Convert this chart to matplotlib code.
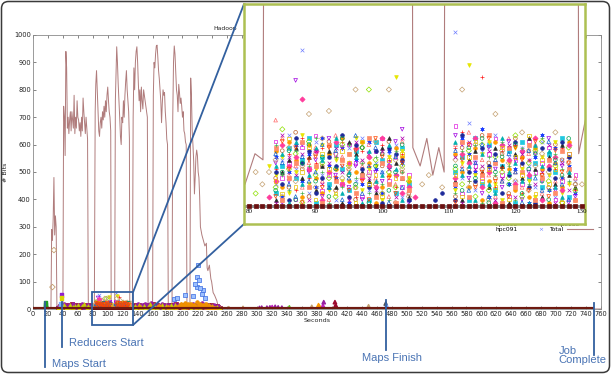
import numpy as np
import matplotlib
matplotlib.use('Agg')
import matplotlib.pyplot as plt
import matplotlib.transforms as mtransforms
from matplotlib.patches import Rectangle, FancyBboxPatch, ConnectionPatch

N = None

# Total bits per second
total_t = [0, 24, 25, 26, 27, 28, 29, 30, 31, 32, 40,
           41, 42, 43, 44, 45, 46, 47, 48, 49, 50, 51, 52, 53, 54, 55, 56, 57, 58, 59, 60,
           61, 62, 63, 64, 65, 66, 67, 68, 69, 70, 71, 72, 73, 74, 76, 78,
           79.4, 80.9, 82.1, 83.2, 84, 85, 86, 87, 88, 89, 90, 91, 92, 93, 94, 95, 96, 97, 98, 99,
           100, 101, 102, 103, 104, 104.6, 105.7, 106.7, 107.6, 108.5, 109.3, 110.2,
           111, 112, 113, 114, 115, 116, 117, 118, 119, 120, 121, 122, 123, 124, 125, 126, 127, 128, 129,
           129.5, 130.5, 131.5, 133, 134, 135, 136, 137, 138, 139, 140, 141, 142, 143, 144, 145, 146, 147,
           148, 150, 152, 153, 154, 160, 161, 162, 163, 164, 165, 166, 167, 168, 169, 170, 171, 172, 173,
           174, 175, 176, 177, 178, 179, 180, 181, 186, 187, 188, 189, 190, 191, 192, 193, 194, 195, 196,
           197, 198, 199, 200, 201, 202, 203, 204, 205, 206, 210, 211, 212, 213, 214, 215, 216, 217, 218,
           219, 220, 221, 222, 223, 224, 226, 228, 230, 232, 233, 234, 236, 238, 239, 241, 243, 246, 248,
           250, 760]
total_v = [0, 0, 290, 250, 330, 480, 270, 340, 300, 5, 5,
           740, 700, 560, 940, 880, 660, 700, 640, 690, 720, 650, 720, 690, 660, 780, 640, 700, 660, 760, 700,
           690, 650, 680, 630, 700, 650, 770, 720, 680, 640, 700, 660, 620, 8, 4, 9,
           7, 17, 15, 720, 820, 870, 800, 720, 650, 630, 680, 700, 660, 720, 690, 740, 700, 760, 720, 780,
           810, 760, 720, 700, 650, 19, 13, 22, 10, 19, 11, 760,
           850, 957, 900, 820, 760, 700, 630, 600, 700, 680, 760, 700, 780, 830, 870, 800, 760, 720, 620,
           17, 28, 15, 20, 700, 880, 800, 900, 940, 957, 900, 820, 760, 800, 720, 810, 760, 730,
           800, 760, 720, 700, 10, 8, 780, 900, 880, 930, 960, 963, 920, 870, 840, 800, 760, 680, 750,
           800, 780, 790, 720, 680, 620, 600, 8, 6, 700, 900, 960, 930, 860, 800, 780, 720, 820, 790,
           750, 770, 740, 700, 720, 650, 640, 610, 600, 8, 6, 843, 780, 650, 600, 540, 420, 480, 555,
           580, 560, 500, 480, 410, 300, 270, 250, 230, 240, 150, 140, 160, 110, 100, 60, 50, 30, 5,
           0, 0]

# per-host samples inside the zoom window, one per second (80..131)
win_secs = np.arange(80, 132)
hpc090 = [N, N, N, 3, 12, 20, 17, 5, 22, 9, 14, 19, 7, 16, 21, 11, 3, 18, 13, 8, 20, 15, 6, 17, 9,
          N, N, N, N, N, N, 19, 24, 8, 16, 42, 21, 6, 18, 11, 20, 4, 15, 22, 9, 17, 12, 19, 7, 5, N, N]
hpc091 = [N, N, N, N, 7, 15, 23, 12, 51, 4, 21, 10, 16, 2, 13, 19, 8, 22, 5, 14, 11, 17, 20, 3, 6,
          N, N, N, N, N, N, 57, 9, 27, 5, 18, 12, 23, 2, 16, 8, 19, 13, 6, 21, 10, 3, 15, 20, 8, N, N]
hpc092 = [N, N, N, N, 16, 3, 11, 20, 8, 17, 6, 22, 13, 9, 19, 1, 15, 7, 21, 12, 4, 18, 10, 14, 2,
          N, N, N, N, N, N, 6, 22, 17, 11, 25, 3, 14, 20, 7, 12, 18, 1, 16, 23, 5, 19, 9, 13, 4, N, N]
hpc093 = [N, N, N, N, 21, 9, 14, 2, 19, 12, 23, 5, 10, 17, 7, 20, 14, 3, 11, 18, 22, 8, 16, 6, 10,
          N, N, N, N, N, N, 26, 4, 20, 13, 9, 17, 22, 10, 3, 15, 7, 21, 11, 14, 19, 2, 8, 17, 10, N, N]
hpc094 = [N, N, N, N, 4, 13, 19, 9, 15, 22, 1, 16, 7, 20, 12, 5, 18, 10, 2, 21, 15, 13, 4, 19, 7,
          N, N, N, N, N, N, 11, 16, 2, 22, 7, 20, 5, 13, 18, 1, 21, 9, 14, 6, 17, 11, 22, 3, N, N, N]
hpc095 = [N, N, N, N, 9, 18, 6, 24, 12, 3, 17, 13, 21, 5, 15, 10, 2, 19, 16, 7, 13, 21, 1, 11, 4,
          N, N, N, N, N, N, 3, 19, 12, 7, 23, 14, 9, 17, 4, 22, 13, 18, 2, 10, 6, 20, 15, 11, 7, N, N]
hpc096 = [N, N, N, N, 18, 6, 21, 15, 3, 20, 9, 4, 17, 12, 22, 8, 11, 21, 14, 1, 6, 10, 19, 16, 8,
          N, N, N, N, N, N, 17, 11, 6, 19, 2, 8, 21, 15, 12, 5, 16, 3, 19, 12, 1, 14, 6, 21, 2, N, N]
hpc097 = [N, N, N, N, 28, 22, 10, 13, 6, 14, 19, 8, 2, 23, 16, 12, 6, 13, 20, 9, 17, 3, 7, 21, 5,
          N, N, N, N, N, N, 20, 13, 24, 1, 15, 10, 3, 8, 22, 11, 6, 17, 20, 4, 13, 8, 2, 16, 9, N, N]
hpc098 = [N, N, N, N, 2, 11, 15, 19, 9, 16, 5, 13, 18, 6, 1, 21, 17, 11, 8, 4, 19, 22, 14, 9, 3,
          N, N, N, N, N, N, 8, 2, 15, 18, 11, 6, 19, 13, 1, 17, 9, 22, 12, 3, 16, 7, 20, 10, 6, N, N]
hpc099 = [N, N, N, N, 14, 1, 8, 41, 20, 11, 15, 3, 22, 10, 19, 6, 13, 2, 17, 11, 8, 14, 21, 25, 1,
          N, N, N, N, N, N, 23, 20, 9, 14, 4, 19, 12, 6, 21, 15, 2, 11, 17, 8, 22, 5, 13, 1, 3, N, N]
hpc100 = [N, N, N, 13, 10, 16, 4, 11, 23, 7, 12, 20, 5, 15, 8, 17, 22, 5, 12, 13, 2, 16, 42, 18, 9,
          N, N, N, N, N, N, 5, 14, 46, 10, 17, 21, 7, 2, 14, 19, 12, 8, 3, 16, 10, 21, 4, 7, N, N, N]
hpc101 = [N, 4, N, N, 6, 25, 12, 17, 1, 21, 10, 14, 9, 3, 20, 13, 6, 19, 38, 15, 4, 11, 6, 13, 8,
          N, N, N, N, N, N, 12, 7, 18, 3, 20, 5, 16, 11, 9, 23, 3, 14, 18, 21, 8, 13, 1, 19, 5, N, N]
hpc102 = [N, 11, 7, 11, 15, 3, 19, 8, 13, 30, 6, 22, 31, 17, 9, 12, 38, 14, 10, 21, 4, 38, 15, 12, 3,
          N, 7, 10, N, 6, N, 15, 38, 6, 20, 12, 2, 30, 18, 14, 8, 24, 5, 13, 17, 11, 24, 9, 14, 7, 7, 21]
hpc103 = [N, N, N, 3, 8, 20, 13, 16, 35, 12, 18, 2, 11, 21, 7, 14, 19, 9, 16, 6, 22, 13, 10, 4, 6,
          3, N, N, N, N, N, 9, 17, 14, 22, 6, 11, 1, 20, 15, 7, 18, 10, 22, 2, 13, 16, 5, 20, N, N, N]
hpc104 = [N, N, N, N, 11, 7, 2, 22, 14, 18, 4, 9, 16, 13, 23, 3, 20, 12, 6, 18, 1, 19, 17, 15, 2,
          N, N, N, 2, 4, N, 2, 23, 11, 8, 19, 13, 17, 4, 10, 21, 14, 6, 1, 19, 12, 9, 21, 16, N, N, N]
hpc105 = [N, N, N, N, 5, 11, 18, 2, 14, 20, 8, 16, 3, 12, 22, 10, 7, 19, 1, 13, 17, 5, 11, 20, N,
          N, N, N, N, N, N, 13, 5, 19, 9, 22, 1, 11, 16, 7, 20, 4, 12, 17, 8, 2, 15, 10, 22, N, N, N]
hpc106 = [N, N, N, N, 19, 2, 9, 14, 21, 6, 13, 1, 20, 8, 15, 17, 4, 10, 22, 3, 14, 7, 1, 9, 5,
          N, N, N, N, N, N, 7, 21, 3, 16, 10, 23, 14, 1, 19, 6, 11, 20, 2, 9, 15, 4, 18, 12, 2, N, N]
hpc107 = [N, N, N, N, 13, 17, 1, 21, 7, 10, 19, 15, 6, 22, 4, 11, 16, 1, 18, 8, 10, 20, 12, 2, N,
          N, N, N, N, N, N, 21, 10, 13, 2, 17, 7, 4, 22, 11, 14, 8, 1, 20, 13, 18, 6, 3, 11, N, N, N]
hpc108 = [N, N, N, N, 1, 23, 16, 10, 17, 2, 18, 7, 14, 19, 11, 2, 21, 15, 9, 5, 18, 12, 3, 22, N,
          N, N, N, N, N, N, 16, 1, 21, 12, 13, 18, 2, 9, 20, 3, 17, 15, 7, 11, 20, 1, 14, 5, N, N, N]
hpc109 = [N, N, N, N, 20, 10, 5, 18, 4, 13, 22, 11, 1, 16, 6, 20, 9, 14, 4, 16, 7, 2, 18, 11, N,
          N, N, N, N, N, N, 4, 18, 8, 20, 1, 16, 10, 21, 13, 2, 19, 7, 10, 22, 5, 17, 12, 8, N, N, N]
hpc110 = [N, N, N, N, 8, 4, 22, 6, 11, 19, 2, 17, 12, 4, 18, 14, 1, 21, 7, 10, 3, 15, 9, 17, N,
          N, N, N, N, N, N, 10, 3, 16, 21, 8, 12, 6, 19, 2, 16, 10, 23, 4, 15, 7, 12, 1, 17, N, N, N]
hpc111 = [N, N, N, N, 17, 14, 7, 3, 16, 8, 11, 20, 6, 18, 2, 9, 23, 4, 13, 19, 11, 1, 16, 6, N,
          N, N, N, N, N, N, 18, 12, 5, 14, 20, 3, 15, 8, 17, 11, 1, 18, 9, 5, 21, 14, 7, 2, N, N, N]
hpc112 = [N, N, N, N, 3, 21, 12, 19, 1, 15, 16, 6, 19, 9, 13, 5, 18, 8, 2, 22, 16, 9, 4, 14, N,
          N, N, N, N, N, N, 1, 15, 20, 6, 11, 22, 8, 12, 3, 19, 15, 5, 21, 10, 3, 18, 11, 14, N, N, N]
hpc130 = [0, 0, 0, 0, 0, 0, 0, 0, 0, 0, 0, 0, 0, 0, 0, 0, 0, 0, 0, 0, 0, 0, 0, 0, 0, 0,
          0, 0, 0, 0, 0, 0, 0, 0, 0, 0, 0, 0, 0, 0, 0, 0, 0, 0, 0, 0, 0, 0, 0, 0, 0, 0]

# low-level traffic outside the zoom window (2 s samples)
band_secs = np.r_[34:80:2, 132:252:2]
band_a = [5, 12, 8, 15, 3, 10, 14, 6, 11, 17, 4, 9, 13, 7, 16, 2, 12, 8, 15, 10, 5, 13, 9,
          11, 6, 14, 3, 9, 16, 7, 12, 4, 15, 10, 8, 13, 5, 17, 2, 11, 14, 6, 9,
          12, 16, 3, 10, 7, 15, 13, 5, 8, 11, 18, 4, 12, 9, 14, 6, 10, 15, 3, 13,
          7, 11, 16, 5, 9, 12, 8, 14, 6, 10, 4, 13, 9, 15, 7, 12, 5, 10, 8, 3]
band_b = [9, 3, 14, 7, 18, 11, 2, 16, 6, 12, 20, 8, 4, 15, 10, 13, 19, 5, 11, 7, 14, 3, 9,
          15, 8, 2, 12, 19, 6, 10, 14, 4, 17, 9, 13, 7, 21, 3, 11, 16, 8, 12, 5,
          18, 10, 6, 14, 2, 15, 9, 12, 20, 7, 4, 13, 11, 16, 8, 3, 17, 10, 14, 6,
          12, 19, 5, 9, 15, 11, 7, 22, 13, 4, 10, 16, 8, 12, 6, 14, 9, 5, 11, 3]
band_c = [2, N, 6, N, 13, 4, N, 9, 16, N, 7, 11, N, 14, 3, N, 10, 18, N, 5, 12, N, 8,
          6, N, 11, 3, N, 15, 8, N, 12, 4, N, 9, 17, N, 5, 13, N, 7, 10, N,
          14, 2, N, 11, 6, N, 16, 9, N, 13, 5, N, 12, 20, N, 8, 14, N, 10, 17,
          4, N, 13, 9, N, 15, 7, N, 11, 18, N, 6, 14, N, 10, 5, N, 8, N, 3]
band_d = [N, N, N, N, N, N, N, N, N, N, N, N, N, N, N, N, N, N, N, N, N, N, N,
          N, N, N, N, N, 8, N, N, N, N, N, N, 5, N, N, N, N, N, 11, N,
          N, N, N, N, 9, N, N, N, N, N, 7, N, 12, 18, 6, 15, 22, 9, 17, 13,
          20, 11, 16, 8, 24, 14, 19, 10, 13, 6, 17, 9, 12, 4, 8, N, 3, N, N, N]

# scattered higher readings
spike_t = [221, 219, 222, 220, 228, 224, 203, 188, 214, 193, 226, 217, 230]
spike_v = [160, 117, 106, 80, 69, 75, 51, 36, 47, 40, 55, 92, 40]
early_t = [17, 17, 17, 17, 37, 37, 37, 38, 38]
early_v = [3, 9, 15, 22, 4, 12, 20, 51, 40]
diamond_t = [26, 28]
diamond_v = [80, 215]
late_t = [262, 281, 303, 306, 313, 317, 320, 324, 328, 333, 343, 373, 382, 383, 388, 389, 404, 405, 449, 472, 473]
late_v = [3, 4, 4, 5, 5, 6, 7, 8, 6, 5, 6, 8, 14, 10, 12, 25, 25, 14, 10, 20, 12]

event_names = ['Maps Start', 'Reducers Start', 'Maps Finish', 'Job\nComplete']
event_secs = [16, 39, 472, 750]

zoom_x = [79, 134]
zoom_y = [-58, 62]
inset_ticks = [80, 90, 100, 110, 120, 130]

# styles
host_vals = [hpc090, hpc091, hpc092, hpc093, hpc094, hpc095, hpc096, hpc097,
             hpc098, hpc099, hpc100, hpc101, hpc102, hpc103, hpc104,
             hpc105, hpc106, hpc107, hpc108, hpc109, hpc110, hpc111, hpc112, hpc130]
host_colors = ['#ff2020', '#6f7fff', '#1a3cff', '#e020e0', '#20c8e0', '#c0602a', '#ff9a00', '#ff6a6a',
               '#2a2a2a', '#a000e0', '#e6e600', '#8ee000', '#c4a070', '#ff3c9c', '#1e2a9a',
               '#00a050', '#ff8c69', '#00b0b0', '#b000b0', '#4caf50', '#e6c200', '#1060d0', '#ff4500',
               '#6a0f0f']
host_markers = ['+', 'x', (6, 2, 0), 's', 's', 'o', 'o', '^', '^', 'v', 'v', 'D', 'D', 'D', 'o',
                'o', 's', '^', 'x', '+', 's', '^', 'v', 's']
host_hollow = [False, False, False, True, False, True, False, True,
               False, True, False, True, True, False, False,
               True, False, False, False, False, True, True, True, False]
band_vals = [band_a, band_b, band_c, band_d]
band_colors = ['#9c0a2e', '#9820a0', '#c8d000', '#f09000']
band_markers = ['s', 'o', '^', 'o']
late_colors = ['#c4a070', '#c4a070', '#9820a0', '#9820a0', '#9820a0', '#9820a0', '#c020c0', '#9820a0',
               '#9820a0', '#9820a0', '#60c020', '#c4a070', '#ff9a00', '#ff9a00', '#c020c0', '#9820a0',
               '#9c0a2e', '#9c0a2e', '#c4a070', '#505050', '#6f9fff']
early_colors = ['#20a020'] * 4 + ['#7ab0ff'] * 3 + ['#9020d0', '#d8d800']

blue = '#33609f'
txt_blue = '#4a74b4'
line_col = '#b07c7c'


def dots(axis, x, y, color, marker, hollow, size):
    y = np.array(y, dtype=float)
    if hollow:
        axis.scatter(x, y, s=size, marker=marker, facecolors='none', edgecolors=color, linewidths=0.5, zorder=3)
    else:
        axis.scatter(x, y, s=size, marker=marker, color=color, linewidths=0.5, zorder=3)


fig = plt.figure(figsize=(6.12, 3.77), dpi=100)
ax = fig.add_axes([33 / 612, 1 - 309 / 377, 568 / 612, 274 / 377])

ax.plot(total_t, total_v, color=line_col, lw=0.7, zorder=2)
for vals, c, m in zip(band_vals, band_colors, band_markers):
    dots(ax, band_secs, vals, c, m, False, 7)
for vals, c, m, h in zip(host_vals, host_colors, host_markers, host_hollow):
    dots(ax, win_secs, vals, c, m, h, 6)
ax.scatter(spike_t, spike_v, s=7, marker='s', facecolors='#9cc0ff', edgecolors='#3a6ae0', linewidths=0.5, zorder=3)
ax.scatter(early_t, early_v, s=6, marker='s', c=early_colors, zorder=3)
ax.scatter(diamond_t, diamond_v, s=8, marker='D', facecolors='none', edgecolors='#c4a070', linewidths=0.6, zorder=3)
ax.scatter(late_t, late_v, s=6, marker='^', c=late_colors, zorder=3)
ax.hlines(0, 0, event_secs[-1], color='#6e1a10', lw=3, zorder=4)

ax.set_xlim(0, 760)
ax.set_ylim(0, 1000)
ax.set_xticks(range(0, 761, 20))
ax.set_yticks(range(0, 1001, 100))
ax.tick_params(direction='in', length=2.5, width=0.5, labelsize=4.8, top=True, right=True,
               colors='#555555', labelcolor='#222222', pad=1.5)
for sp in ax.spines.values():
    sp.set_color('#8a8a8a')
    sp.set_linewidth(0.6)
ax.set_xlabel('Seconds', fontsize=4.6, labelpad=1, color='#222222')
ax.set_ylabel('# Bits', fontsize=4.6, color='#222222')
ax.yaxis.set_label_coords(-0.044, 0.5)
ax.text(0.338, 1.025, 'Hadoop', transform=ax.transAxes, fontsize=4.4, ha='center', va='center', color='#222222')

# key fragments peeking out under the inset
key_y = [0.308, 0.291]
ax.text(0.854, key_y[0], 'hpc090', transform=ax.transAxes, fontsize=4.3, ha='right', va='center')
ax.text(0.963, key_y[0], 'hpc130', transform=ax.transAxes, fontsize=4.3, ha='right', va='center')
ax.text(0.854, key_y[1], 'hpc091', transform=ax.transAxes, fontsize=4.3, ha='right', va='center')
ax.text(0.893, key_y[1], '\u00d7', transform=ax.transAxes, fontsize=4.3, ha='center', va='center', color='#6f7fff')
ax.text(0.933, key_y[1], 'Total', transform=ax.transAxes, fontsize=4.3, ha='right', va='center')
ax.plot([0.940, 0.986], [key_y[1], key_y[1]], transform=ax.transAxes, color=line_col, lw=0.8, clip_on=False)

# zoom box
ax.add_patch(Rectangle((zoom_x[0], zoom_y[0]), zoom_x[1] - zoom_x[0], zoom_y[1] - zoom_y[0],
                       fill=False, ec=blue, lw=1.3, clip_on=False, zorder=6))

# events below the axis
bt = mtransforms.blended_transform_factory(ax.transData, ax.transAxes)
line_top = [0.026, 0.026, 0.033, 0.022]
line_bot = [-0.212, -0.139, -0.150, -0.168]
text_dx = [7, 7, -24, -35]
text_y = [-0.200, -0.124, -0.179, -0.170]
for name, t, y0, y1, dx, ty in zip(event_names, event_secs, line_top, line_bot, text_dx, text_y):
    ax.plot([t, t], [y0, y1], transform=bt, color=blue, lw=1.3, clip_on=False, zorder=6)
    ax.annotate(name, xy=(t, ty), xycoords=bt, xytext=(dx, 0), textcoords='offset pixels',
                ha='left', va='center', fontsize=8, color=txt_blue, family='Liberation Sans',
                linespacing=0.95, annotation_clip=False)

# inset
ax_in = fig.add_axes([244 / 612, 1 - 224 / 377, 341 / 612, 220 / 377])
ax_in.set_zorder(5)
ax_in.set_facecolor('white')
ax_in.axhline(0, color='#8a8a8a', lw=2.2, zorder=1)
ax_in.plot(total_t, total_v, color=line_col, lw=0.8, zorder=2)
for vals, c, m, h in zip(host_vals, host_colors, host_markers, host_hollow):
    dots(ax_in, win_secs, vals, c, m, h, 7)
ax_in.set_xlim(79.25, 130.45)
ax_in.set_ylim(-6, 66)
ax_in.set_xticks([])
ax_in.set_yticks([])
for tk in inset_ticks:
    ax_in.text(tk, -1.8, str(tk), ha='center', va='center', fontsize=5, family='Liberation Serif')
for sp in ax_in.spines.values():
    sp.set_color('#adc052')
    sp.set_linewidth(1.8)

for xa, xb in [((zoom_x[1], zoom_y[1]), (0, 1)), ((zoom_x[1], zoom_y[0]), (0, 0))]:
    con = ConnectionPatch(xyA=xa, coordsA=ax.transData, xyB=xb, coordsB=ax_in.transAxes,
                          color=blue, lw=1.3)
    fig.add_artist(con)

frame = FancyBboxPatch((1.5, 4.5), 608, 371, boxstyle='round,pad=0,rounding_size=7',
                       transform=mtransforms.IdentityTransform(), fill=False, ec='#3a3a3a', lw=1.1)
fig.add_artist(frame)

fig.savefig('out.png', dpi=100)
